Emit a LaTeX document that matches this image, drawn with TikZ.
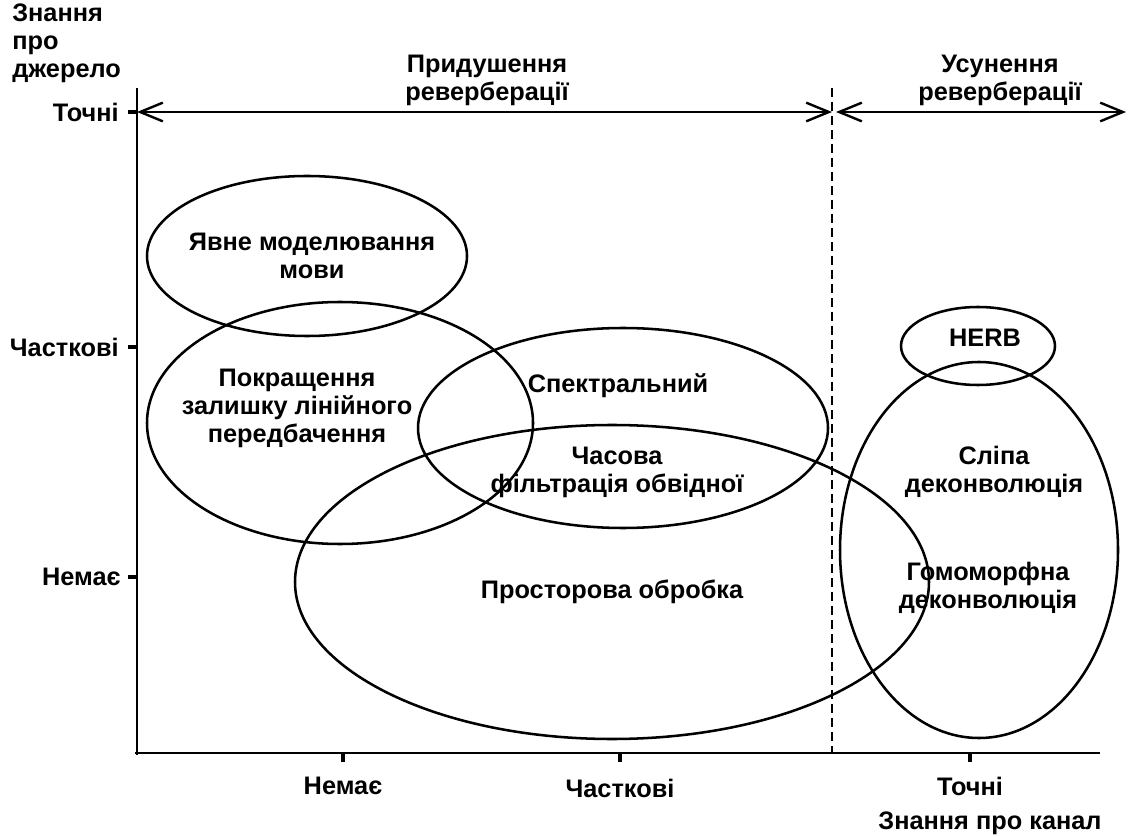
\documentclass[tikz,border=0pt]{standalone}
\usepackage{fontspec}
\setmainfont{Liberation Sans}
\usetikzlibrary{positioning,arrows.meta}

\begin{document}
\begin{tikzpicture}[
  x=0.75pt, y=-0.75pt,
  axis/.style={line width=2.2pt},
  blob/.style={line width=1.9pt},
  mark line/.style={line width=2.4pt},
  lbl/.style={font=\fontsize{19}{21}\selectfont\bfseries, align=center, inner sep=0pt},
  side/.style={lbl, align=right},
  span/.style={{Straight Barb[length=17pt,width=14pt]}-{Straight Barb[length=17pt,width=14pt]}, line width=1.8pt},
]

\useasboundingbox (0,0) rectangle (1134,837);

% === Axes ===
\coordinate (O) at (137,753);
\coordinate (ytop) at (137,88);
\coordinate (xend) at (1100,753);
\draw[axis] (ytop) -- (137,755);
\draw[axis] (135,753) -- (xend);

% === Ticks on source axis ===
\coordinate (ys1) at (137,112);
\coordinate (ys2) at (137,347);
\coordinate (ys3) at (137,577);
\foreach \c in {ys1,ys2,ys3}
  \draw[mark line] (\c) -- ++(-9,0);

% === Ticks on channel axis ===
\coordinate (xc1) at (343,753);
\coordinate (xc2) at (620,753);
\coordinate (xc3) at (970,753);
\foreach \c in {xc1,xc2,xc3}
  \draw[mark line] (\c) -- ++(0,9);

% === Boundary ===
\coordinate (dtop) at (832,88);
\coordinate (dbot) at (832,753);
\draw[line width=1.8pt, dash pattern=on 7pt off 3.5pt] (dtop) -- (dbot);

% === Ranges ===
\coordinate (dmid) at (832,112);
\coordinate (dmid2) at (836,112);
\coordinate (rend) at (1126,112);
\draw[span] (ys1) -- (dmid);
\draw[span] (dmid2) -- (rend);

\node[lbl] (supp) at (487,80) {Придушення\\реверберації};
\node[lbl] (remv) at (1000,80) {Усунення\\реверберації};

% === Axis labels ===
\node[lbl, align=left, anchor=north west] (srcax) at (12,4) {Знання\\про\\джерело};
\node[side, anchor=east] (ys1l) at (119,112) {Точні};
\node[side, anchor=east] (ys2l) at (119,347) {Часткові};
\node[side, anchor=east] (ys3l) at (121,577) {Немає};

\node[lbl] (xc1l) at (343,786) {Немає};
\node[lbl] (xc2l) at (620,788) {Часткові};
\node[lbl] (xc3l) at (970,786) {Точні};
\node[lbl] (chax) at (990,823) {Знання про канал};

% === Regions ===
\draw[blob] (307,256) ellipse [x radius=160, y radius=80];
\draw[blob] (340,423) ellipse [x radius=193, y radius=121];
\draw[blob] (623,428) ellipse [x radius=205, y radius=100];
\draw[blob] (612,582) ellipse [x radius=317, y radius=157];
\draw[blob] (978,346) ellipse [x radius=77, y radius=39];
\draw[blob] (979,550) ellipse [x radius=139, y radius=188];

\node[lbl] (lang) at (312,256) {Явне моделювання\\мови};
\node[lbl] (lpr) at (297,408) {Покращення\\залишку лінійного\\передбачення};
\node[lbl] (spec) at (618,386) {Спектральний};
\node[lbl] (env) at (617,472) {Часова\\фільтрація обвідної};
\node[lbl] (spat) at (612,592) {Просторова обробка};
\node[lbl] (herb) at (985,338) {HERB};
\node[lbl] (blind) at (994,472) {Сліпа\\деконволюція};
\node[lbl] (homo) at (988,588) {Гомоморфна\\деконволюція};

\end{tikzpicture}
\end{document}
